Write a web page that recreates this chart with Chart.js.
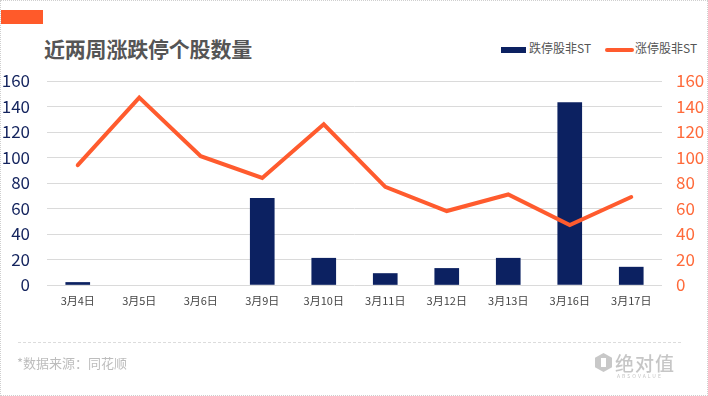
<!DOCTYPE html>
<html>
<head>
<meta charset="utf-8">
<script src="https://cdn.jsdelivr.net/npm/chart.js@4/dist/chart.umd.min.js"></script>
<style>
  body { margin: 0; background: #fff; }
  #wrap { position: relative; width: 708px; height: 396px; box-sizing: border-box; border: 1px dotted #cfcfcf; overflow: hidden; font-family: "Noto Sans CJK SC", "Noto Sans", sans-serif; }
  #chart { position: absolute; left: 0; top: 0; }
  .tag { position: absolute; left: 0; top: 9px; width: 42px; height: 14px; background: #ff5a2a; }
  .title { position: absolute; left: 43px; top: 33px; font-size: 21px; font-weight: bold; color: #555; line-height: 28px; letter-spacing: -0.2px; }
  .leg { position: absolute; top: 38px; font-size: 12px; color: #555; line-height: 18px; }
  .leg i { display: inline-block; vertical-align: middle; margin-right: 3px; }
  .dash { position: absolute; left: 17px; width: 663px; top: 341px; border-top: 1px dashed #dcdcdc; }
  .src { position: absolute; left: 16px; top: 352px; font-size: 13px; color: #bdbdbd; }
  .logo { position: absolute; left: 594px; top: 350px; color: #c6c6c6; }
  .logo b { position: absolute; left: 20px; top: -2px; font-size: 19px; font-weight: 500; letter-spacing: 1px; white-space: nowrap; }
  .logo small { position: absolute; left: 22px; top: 21px; font-size: 5px; letter-spacing: 2px; }
</style>
</head>
<body>
<div id="wrap">
  <div class="tag"></div>
  <div class="title">近两周涨跌停个股数量</div>
  <div class="leg" style="left:500px"><i style="width:25px;height:6px;background:#0c2161"></i>跌停股非ST</div>
  <div class="leg" style="left:604px"><i style="width:29px;height:4px;border-radius:2px;background:#ff5b2e;margin-right:1px"></i>涨停股非ST</div>
  <canvas id="chart" width="708" height="396"></canvas>
  <div class="dash"></div>
  <div class="src">*数据来源：同花顺</div>
  <div class="logo">
    <svg width="17" height="19" viewBox="0 0 17 19" style="position:absolute;left:0;top:2px"><polygon points="8.5,0 17,4.75 17,14.25 8.5,19 0,14.25 0,4.75" fill="#c8c8c8"/><rect x="6" y="5" width="5" height="9" fill="#fff"/></svg>
    <b>绝对值</b>
    <small>ABSOVALUE</small>
  </div>
</div>
<script>
const dates = ['3月4日', '3月5日', '3月6日', '3月9日', '3月10日', '3月11日', '3月12日', '3月13日', '3月16日', '3月17日'];
const limitDown = [2, 0, 0, 68, 21, 9, 13, 21, 143, 14];
const limitUp = [94, 147, 101, 84, 126, 77, 58, 71, 47, 69];
const yMin = 0;
const yMax = 160;
const yStep = 20;

const ctx = document.getElementById('chart').getContext('2d');
const chart = new Chart(ctx, {
    type: 'bar',
    data: {
        labels: dates,
        datasets: [{
            label: '跌停股非ST',
            data: limitDown,
            // zero-height bars leave a faint sliver, hide them
            backgroundColor: (c) => c.raw ? '#0c2161' : 'rgba(0,0,0,0)',
            barThickness: 24,
            yAxisID: 'y',
            order: 2
        },
        {
            type: 'line',
            label: '涨停股非ST',
            data: limitUp,
            borderColor: '#ff5b2e',
            borderWidth: 4,
            borderCapStyle: 'round',
            pointRadius: 0,
            tension: 0,
            yAxisID: 'y1',
            order: 1
        }]
    },
    options: {
        responsive: false,
        animation: false,
        layout: { padding: { left: 0, right: 0, top: 80, bottom: 82 } },
        plugins: {
            legend: { display: false },
            tooltip: { enabled: false }
        },
        scales: {
            x: {
                grid: { display: false, drawTicks: false },
                border: { display: false },
                ticks: { color: '#444', font: { size: 11, family: 'Noto Sans CJK SC' }, padding: 9 },
                afterFit: (s) => { s.height = 30; }
            },
            y: {
                position: 'left',
                min: yMin,
                max: yMax,
                grid: { color: '#dadada', drawTicks: false },
                border: { display: false },
                ticks: { stepSize: yStep, color: '#14245e', font: { size: 17, family: 'Noto Sans CJK SC' }, padding: 17 },
                afterFit: (s) => { s.width = 46; }
            },
            y1: {
                position: 'right',
                min: yMin,
                max: yMax,
                grid: { display: false, drawTicks: false },
                border: { display: false },
                ticks: { stepSize: yStep, color: '#ff6a3a', font: { size: 17, family: 'Noto Sans CJK SC' }, padding: 14 },
                afterFit: (s) => { s.width = 47; }
            }
        }
    }
});
</script>
</body>
</html>
